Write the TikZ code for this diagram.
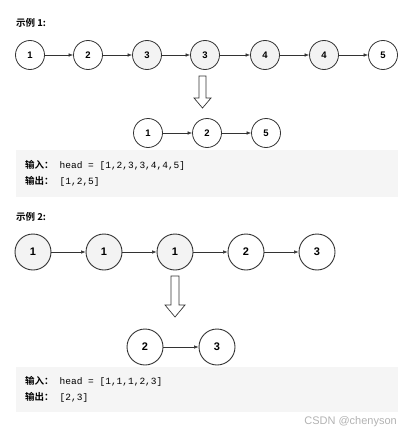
\documentclass[tikz,border=0pt]{standalone}
\usepackage{fontspec}
\setmainfont{Liberation Sans}
\setmonofont{Liberation Mono}
\newfontfamily\cjk{Noto Sans CJK SC}
\newfontfamily\cjkb{Noto Sans CJK SC Bold}
\usetikzlibrary{arrows.meta}
\definecolor{boxgray}{HTML}{F5F5F5}
\definecolor{cfill}{HTML}{F3F3F3}
\definecolor{lineg}{HTML}{333333}
\tikzset{
  sm/.style={circle,draw=lineg,line width=0.8pt,minimum size=29pt,inner sep=0pt,font=\bfseries\fontsize{9.5}{10}\selectfont},
  bg/.style={circle,draw=lineg,line width=0.9pt,minimum size=36pt,inner sep=0pt,font=\bfseries\fontsize{11}{12}\selectfont},
  gr/.style={fill=cfill},
  lnk/.style={-{Latex[length=4.5pt,width=3.5pt]},line width=0.6pt,draw=lineg},
  blk/.style={draw=lineg,line width=0.7pt,fill=white},
  ttl/.style={anchor=west,inner sep=0pt,font=\cjkb\fontsize{9.5}{11}\selectfont},
  code/.style={anchor=west,inner sep=0pt,font=\fontsize{9.5}{11}\selectfont},
}
\newcommand{\lbl}[1]{{\cjkb\fontsize{9.5}{11}\selectfont #1}\hspace{6pt}}
\begin{document}
\begin{tikzpicture}[x=1pt,y=-1pt]
\useasboundingbox (0,0) rectangle (407,436);
% example 1
\node[ttl] (t1) at (16,23) {示例 1:};
\node[sm] (a1) at (30,55) {1};
\node[sm] (a2) at (88,55) {2};
\node[sm,gr] (a3) at (147,55) {3};
\node[sm,gr] (a4) at (205,55) {3};
\node[sm,gr] (a5) at (265,55) {4};
\node[sm,gr] (a6) at (324,55) {4};
\node[sm] (a7) at (383,55) {5};
\foreach \i/\j in {a1/a2,a2/a3,a3/a4,a4/a5,a5/a6,a6/a7} \draw[lnk] (\i) -- (\j);
\draw[blk] (199,76) -- (206,76) -- (206,98) -- (211,98) -- (202.5,108) -- (194,98) -- (199,98) -- cycle;
\node[sm] (b1) at (148,133) {1};
\node[sm] (b2) at (207,133) {2};
\node[sm] (b3) at (266,133) {5};
\draw[lnk] (b1) -- (b2);
\draw[lnk] (b2) -- (b3);
\fill[boxgray] (16,150) rectangle (398,197);
\node[code] (i1) at (25,165) {\lbl{输入：}\ttfamily head = [1,2,3,3,4,4,5]};
\node[code] (o1) at (25,181) {\lbl{输出：}\ttfamily [1,2,5]};
% example 2
\node[ttl] (t2) at (16,217) {示例 2:};
\node[bg,gr] (c1) at (33,252) {1};
\node[bg,gr] (c2) at (104,252) {1};
\node[bg,gr] (c3) at (175,252) {1};
\node[bg] (c4) at (246,252) {2};
\node[bg] (c5) at (317,252) {3};
\foreach \i/\j in {c1/c2,c2/c3,c3/c4,c4/c5} \draw[lnk] (\i) -- (\j);
\draw[blk] (171,276) -- (179,276) -- (179,305) -- (185,305) -- (175,317) -- (165,305) -- (171,305) -- cycle;
\node[bg] (d1) at (145,347) {2};
\node[bg] (d2) at (217,347) {3};
\draw[lnk] (d1) -- (d2);
\fill[boxgray] (16,367) rectangle (398,412);
\node[code] (i2) at (25,381) {\lbl{输入：}\ttfamily head = [1,1,1,2,3]};
\node[code] (o2) at (25,397) {\lbl{输出：}\ttfamily [2,3]};
\node[anchor=east,inner sep=0pt,text=gray!60,font=\fontsize{11}{13}\selectfont] (wm) at (397,422) {CSDN @chenyson};
\end{tikzpicture}
\end{document}
